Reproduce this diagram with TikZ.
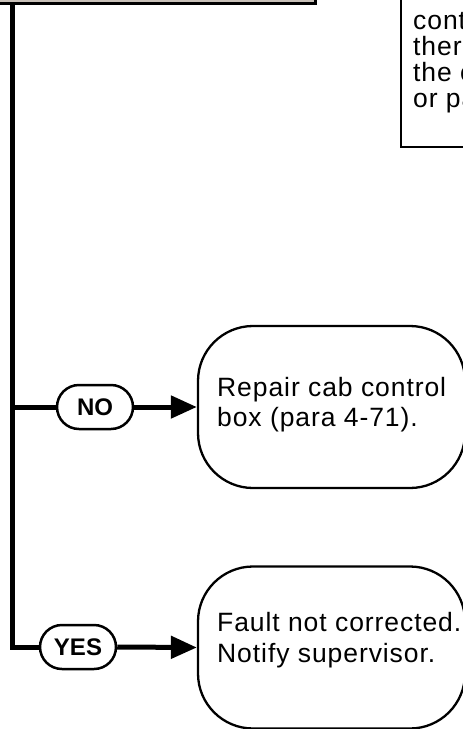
\documentclass[tikz,border=0pt]{standalone}
\usepackage{fontspec}
\setmainfont{Liberation Sans}
\newfontfamily\spaced[LetterSpace=3.5]{Liberation Sans}
\usetikzlibrary{arrows.meta,shapes.misc}
\definecolor{boxgray}{RGB}{200,192,184}
\tikzset{
  rbox/.style={draw, line width=2.3pt, rounded corners=55pt, fill=white,
    minimum width=267pt, minimum height=162pt, inner sep=0pt},
  pill/.style={draw, line width=2.5pt, rounded rectangle, fill=white,
    minimum width=76pt, minimum height=44pt, inner sep=0pt,
    font=\bfseries\fontsize{24}{24}\selectfont},
  txt/.style={align=left, inner sep=0pt, font=\spaced\fontsize{26.5}{30.5}\selectfont},
  notetxt/.style={inner sep=0pt, anchor=base west, font=\spaced\fontsize{26.5}{26}\selectfont},
  flow/.style={line width=5pt},
  arr/.style={flow, -{Triangle[length=26pt,width=22pt]}},
}
\begin{document}
\begin{tikzpicture}[x=1pt,y=-1pt]
\useasboundingbox (0,0) rectangle (463,729);
\clip (0,0) rectangle (463,729);
% partial boxes at the top
\node[draw, line width=3pt, fill=boxgray, minimum width=335pt, minimum height=44pt, inner sep=0pt]
  (topbox) at (147.5,-18.5) {};
\node[draw, line width=2pt, fill=white, minimum width=120pt, minimum height=170pt, inner sep=0pt]
  (notebox) at (461,62) {};
\node[notetxt] (note1) at (413,29) {contr};
\node[notetxt] (note2) at (413,55) {there};
\node[notetxt] (note3) at (413,81) {the c};
\node[notetxt] (note4) at (413,107) {or pa};
% decision branches
\coordinate (top) at (12.5,3);
\coordinate (nojoin) at (12.5,407);
\coordinate (corner) at (12.5,647);
\node[pill] (nopill) at (95,407) {NO};
\node[pill] (yespill) at (78,647) {YES};
\node[rbox] (nobox) at (331.5,407) {};
\node[rbox] (yesbox) at (331.5,647.5) {};
\node[txt, anchor=west] (notext) at (217,404.5) {Repair cab control\\box (para 4-71).};
\node[txt, anchor=west] (yestext) at (217,640) {Fault not corrected.\\Notify supervisor.};
\draw[flow] (top) -- (corner) -- (yespill.west);
\draw[flow] (nojoin) -- (nopill.west);
\draw[arr] (nopill.east) -- (nobox.west);
\draw[arr] (yespill.east) -- (yesbox.west);
\end{tikzpicture}
\end{document}
